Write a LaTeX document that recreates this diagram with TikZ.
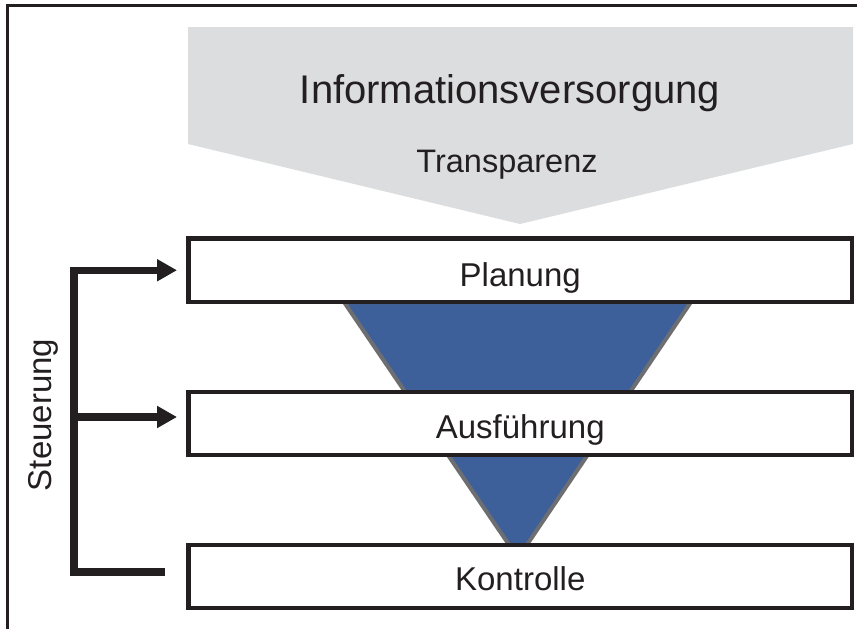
\documentclass[tikz,border=0pt]{standalone}
\usepackage{fontspec}
\setmainfont{Liberation Sans}
\usetikzlibrary{arrows.meta}
\definecolor{ink}{HTML}{231F20}
\definecolor{funnelgray}{HTML}{DCDDDE}
\definecolor{funnelblue}{HTML}{3D5F9A}
\definecolor{edgegray}{HTML}{6D6E71}
\tikzset{
  phasebox/.style={draw=ink, fill=white, line width=4.5pt, rectangle,
    minimum width=663.5pt, minimum height=63pt, inner sep=0pt, outer sep=0pt},
  phaselabel/.style={font=\fontsize{33}{36}\selectfont, text=ink, anchor=base, inner sep=0pt},
  bracket/.style={draw=ink, line width=7.5pt, line join=miter},
  bigtip/.style={-{Triangle[length=20pt,width=21pt]}, shorten >=11.5pt}
}
\begin{document}
\begin{tikzpicture}[x=1pt, y=-1pt]
  \useasboundingbox (0,0) rectangle (857,629);
  % outer frame (top and left edges)
  \draw[ink, line width=3pt, line join=miter] (7,629) -- (7,5) -- (857,5);
  % information supply arrow
  \fill[funnelgray] (188,27) -- (853,27) -- (853,144) -- (520,224) -- (188,144) -- cycle;
  \node[font=\fontsize{40}{44}\selectfont, text=ink, anchor=base, inner sep=0pt] (info) at (510,103) {Informationsversorgung};
  \node[font=\fontsize{32.5}{36}\selectfont, text=ink, anchor=base, inner sep=0pt] (transp) at (507,172) {Transparenz};
  % blue funnel behind the phase boxes
  \filldraw[fill=funnelblue, draw=edgegray, line width=4pt, line join=miter] (344,302) -- (691,302) -- (518,558) -- cycle;
  % phase boxes
  \node[phasebox, minimum height=63.5pt] (plan) at (520.25,270.25) {};
  \node[phasebox] (aus) at (520.25,423.5) {};
  \node[phasebox] (kon) at (520.25,576.5) {};
  \node[phaselabel] (planL) at ([yshift=-16pt]plan.center) {Planung};
  \node[phaselabel] (ausL) at ([yshift=-15pt]aus.center) {Ausführung};
  \node[phaselabel] (konL) at ([yshift=-14pt]kon.center) {Kontrolle};
  % control bracket
  \coordinate (bstart) at (165,572);
  \coordinate (bx) at (74,0);
  \coordinate (ausin) at ([yshift=6.5pt]aus.west);
  \draw[bracket, bigtip] (bstart) -| (bx |- plan.west) -- (plan.west);
  \draw[bracket, bigtip] (bx |- ausin) -- (ausin);
  \node[font=\fontsize{33}{36}\selectfont, text=ink, rotate=90, anchor=base, inner sep=0pt] (steu) at (51,415) {Steuerung};
\end{tikzpicture}
\end{document}
